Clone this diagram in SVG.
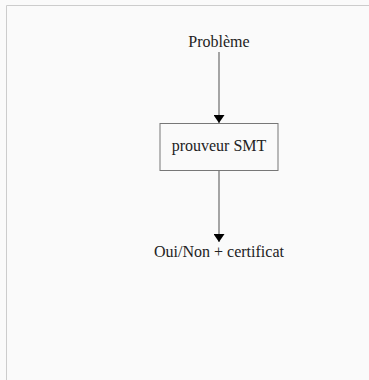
<svg xmlns="http://www.w3.org/2000/svg" width="369" height="380" viewBox="0 0 369 380">
<defs>
<style>
.t{font-family:"Liberation Serif","DejaVu Serif",serif;font-size:16px;fill:#222;text-anchor:middle}
.e{stroke:#777;stroke-width:1.3;fill:none}
</style>
<marker id="ah" markerWidth="8" markerHeight="11" refX="8" refY="5.5" orient="auto" markerUnits="userSpaceOnUse" viewBox="0 0 8 11">
<path d="M0,0 L8,5.5 L0,11 Z" fill="#000"/>
</marker>
</defs>
<rect x="0" y="0" width="369" height="380" fill="#fafafa"/>
<path d="M6.5,380 V5.5 H369" fill="none" stroke="#cccccc" stroke-width="1"/>
<g id="connectors">
<line class="e" x1="219" y1="52" x2="219" y2="123" marker-end="url(#ah)"/>
<line class="e" x1="219" y1="170" x2="219" y2="242" marker-end="url(#ah)"/>
</g>
<g id="probleme"><text class="t" x="219" y="47">Problème</text></g>
<g id="prouveur">
<rect x="160" y="123.5" width="118" height="47" fill="none" stroke="#777" stroke-width="1"/>
<text class="t" x="219" y="151">prouveur SMT</text>
</g>
<g id="resultat"><text class="t" x="219" y="257">Oui/Non + certificat</text></g>
</svg>
